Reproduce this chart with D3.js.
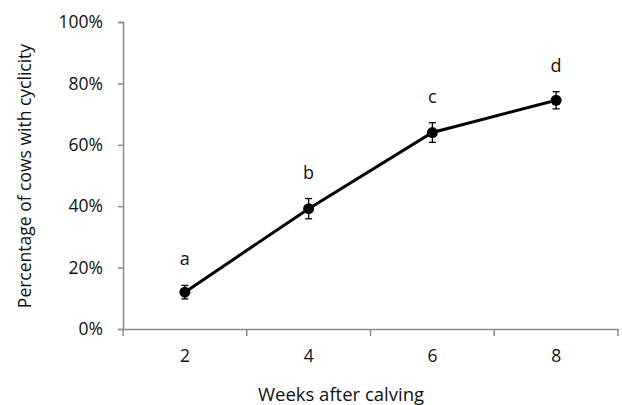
<!DOCTYPE html>
<html>
<head>
<meta charset="utf-8">
<script src="https://cdn.jsdelivr.net/npm/d3@7"></script>
<style>
  body { margin: 0; background: #fff; }
  text { font-family: "Open Sans", "Noto Sans", sans-serif; fill: #111; }
</style>
</head>
<body>
<svg id="chart" width="622" height="405"></svg>
<script>
// data
var weeks = ['2', '4', '6', '8'];
var pct = [12.0, 39.2, 64.0, 74.5];
var err = [2.2, 3.3, 3.2, 2.8];
var letters = ['a', 'b', 'c', 'd'];
var yTicks = [0, 20, 40, 60, 80, 100];

var svg = d3.select('#chart');
var m_left = 123, m_right = 618, m_top = 22, m_bottom = 329;

var x = d3.scaleBand().domain(weeks).range([m_left, m_right]);
var y = d3.scaleLinear().domain([0, 100]).range([m_bottom, m_top]);

// y axis
var yAxis = svg.append('g')
  .attr('transform', 'translate(' + m_left + ',0)')
  .call(d3.axisLeft(y).tickValues(yTicks).tickSize(5).tickPadding(15)
    .tickFormat(function(d) { return d + '%'; }));
yAxis.selectAll('path, line').attr('stroke', '#8c8c8c').attr('stroke-width', 1.5);
yAxis.selectAll('text').style('font-size', '17.5px').attr('fill', '#111');

// x axis - ticks sit on the band boundaries
var xAxis = svg.append('g')
  .attr('transform', 'translate(0,' + m_bottom + ')')
  .call(d3.axisBottom(x).tickSize(0).tickSizeOuter(0).tickPadding(21));
xAxis.select('path').attr('stroke', '#8c8c8c').attr('stroke-width', 1.5);
xAxis.selectAll('text').style('font-size', '17.5px').attr('fill', '#111');

var bounds = weeks.map(function(w) { return x(w); }).concat([m_right]);
svg.append('g').selectAll('line')
  .data(bounds)
  .enter()
  .append('line')
  .attr('x1', function(d) { return d; })
  .attr('x2', function(d) { return d; })
  .attr('y1', m_bottom)
  .attr('y2', m_bottom + 7)
  .attr('stroke', '#8c8c8c')
  .attr('stroke-width', 1.5);

// axis titles
svg.append('text')
  .attr('x', 341)
  .attr('y', 401)
  .attr('text-anchor', 'middle')
  .style('font-size', '18.5px')
  .text('Weeks after calving');

svg.append('text')
  .attr('transform', 'translate(31,176) rotate(-90)')
  .attr('text-anchor', 'middle')
  .style('font-size', '17.5px')
  .text('Percentage of cows with cyclicity');

var pts = weeks.map(function(w, i) {
  return { week: w, value: pct[i], err: err[i], letter: letters[i] };
});
var cx = function(d) { return x(d.week) + x.bandwidth() / 2; };

// line
svg.append('path')
  .datum(pts)
  .attr('fill', 'none')
  .attr('stroke', '#000')
  .attr('stroke-width', 3)
  .attr('d', d3.line().x(cx).y(function(d) { return y(d.value); }));

// error bars
var eb = svg.append('g').selectAll('g')
  .data(pts)
  .enter()
  .append('g')
  .attr('stroke', '#000')
  .attr('stroke-width', 1.3);
eb.append('line')
  .attr('x1', cx).attr('x2', cx)
  .attr('y1', function(d) { return y(d.value + d.err); })
  .attr('y2', function(d) { return y(d.value - d.err); });
eb.append('line')
  .attr('x1', function(d) { return cx(d) - 3.5; })
  .attr('x2', function(d) { return cx(d) + 3.5; })
  .attr('y1', function(d) { return y(d.value + d.err); })
  .attr('y2', function(d) { return y(d.value + d.err); });
eb.append('line')
  .attr('x1', function(d) { return cx(d) - 3.5; })
  .attr('x2', function(d) { return cx(d) + 3.5; })
  .attr('y1', function(d) { return y(d.value - d.err); })
  .attr('y2', function(d) { return y(d.value - d.err); });

// markers
svg.append('g').selectAll('circle')
  .data(pts)
  .enter()
  .append('circle')
  .attr('cx', cx)
  .attr('cy', function(d) { return y(d.value); })
  .attr('r', 5.5)
  .attr('fill', '#000');

// significance letters
svg.append('g').selectAll('text')
  .data(pts)
  .enter()
  .append('text')
  .attr('x', cx)
  .attr('y', function(d) { return y(d.value + d.err) - 20; })
  .attr('text-anchor', 'middle')
  .style('font-size', '18px')
  .text(function(d) { return d.letter; });
</script>
</body>
</html>
